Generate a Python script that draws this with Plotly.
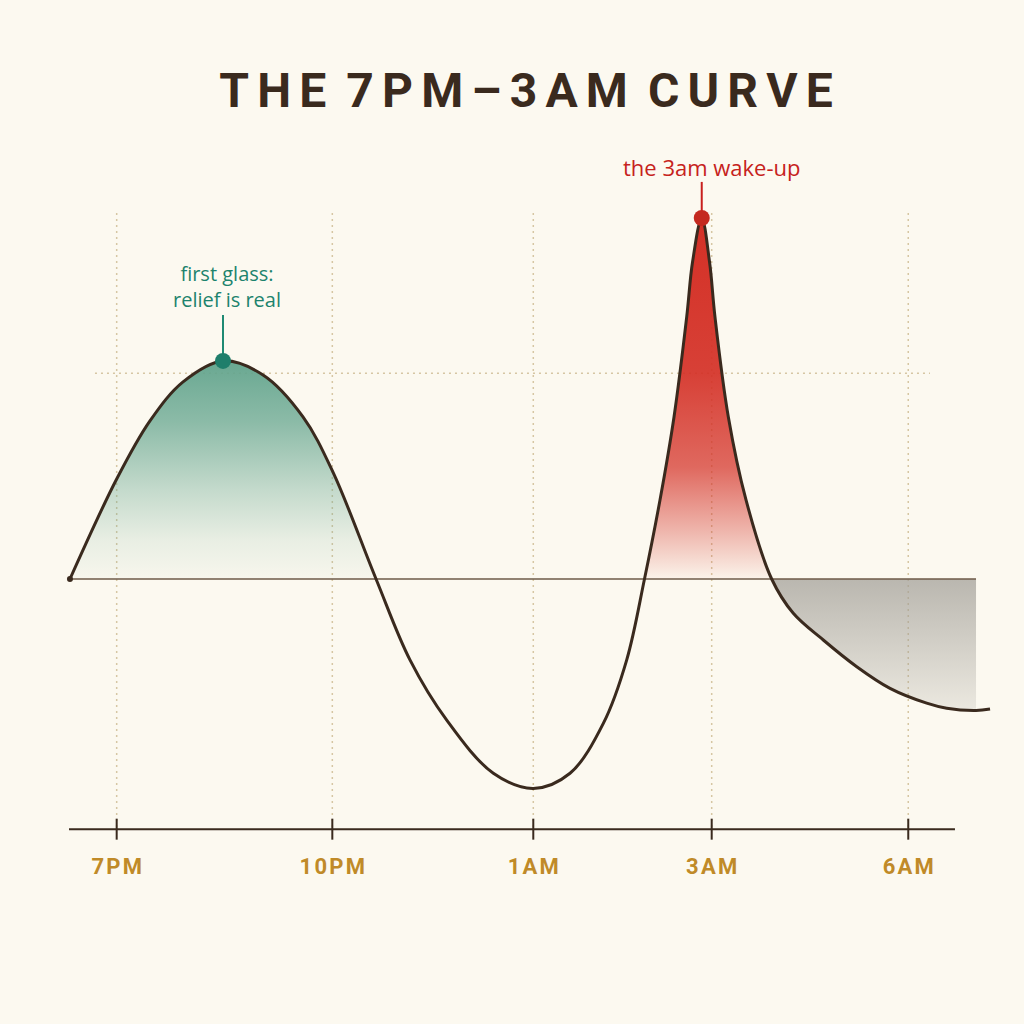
import plotly.graph_objects as go

BG = "#FCF9F0"
INK = "#3A2A1E"

# ---- data -------------------------------------------------------------
title_text = "THE 7PM–3AM CURVE"
tick_labels = ["7PM", "10PM", "1AM", "3AM", "6AM"]
tick_pos = [6.03, 28.97, 50.35, 69.33, 90.24]   # position on the night timeline (0-100)

curve_x = [1.06, 6.03, 9.57, 13.09, 17.34, 21.60, 25.85, 29.04, 33.62,
           37.23, 41.14, 46.10, 50.35, 54.26, 57.80, 60.29, 62.18,
           63.83, 65.32, 66.67, 67.29, 68.27, 69.10, 69.68, 71.10, 72.98, 75.71,
           78.01, 81.20, 84.76, 88.30, 92.20, 94.33, 97.45, 98.94]
curve_y = [0.00, 2.77, 4.38, 5.46, 6.04, 5.65, 4.49, 2.96, 0.00,
           -2.24, -3.91, -5.38, -5.80, -5.38, -4.00, -2.24, 0.00,
           2.19, 4.49, 7.26, 8.78, 10.00, 8.78, 7.26, 4.49, 2.19, 0.00,
           -0.95, -1.69, -2.43, -3.03, -3.44, -3.58, -3.64, -3.60]

relief_idx = list(range(0, 9))      # first glass hump
wake_idx = list(range(16, 27))      # 3am spike
crash_idx = list(range(26, 34))     # morning low

relief_peak = 4
wake_peak = 21

relief_label = "first glass:<br>relief is real"
wake_label = "the 3am wake-up"
relief_label_pos = (17.73, 8.10)
wake_label_pos = (69.36, 11.42)
relief_leader_top = 7.31
wake_leader_top = 11.00

ref_level = 5.70                 # dotted reference level
ref_span = (3.72, 92.55)
grid_top = 10.14
axis_y = -6.93
axis_span = (0.96, 95.21)
baseline_span = (1.06, 97.45)
label_y = -8.03

X_RANGE = [0, 100]
Y_RANGE = [-8.892, 12.438]


def pick(arr, idx):
    return [arr[i] for i in idx]


fig = go.Figure()

GRID = dict(color="#D6C6A3", width=1.5, dash="2px,4px")

# dotted horizontal reference level (under the fills)
fig.add_trace(go.Scatter(x=list(ref_span), y=[ref_level, ref_level], mode="lines",
                         line=GRID, hoverinfo="skip", showlegend=False))

# dotted vertical grid at the ticks
gx, gy = [], []
for p in tick_pos:
    gx += [p, p, None]
    gy += [grid_top, axis_y, None]
fig.add_trace(go.Scatter(x=gx, y=gy, mode="lines", line=GRID,
                         hoverinfo="skip", showlegend=False))

SMOOTH = 1.0

# green hump
fig.add_trace(go.Scatter(
    x=pick(curve_x, relief_idx), y=pick(curve_y, relief_idx), mode="lines",
    line=dict(width=0, shape="spline", smoothing=SMOOTH), fill="tozeroy",
    fillgradient=dict(type="vertical", start=0, stop=curve_y[relief_peak],
                      colorscale=[[0.0, "rgba(100,165,142,0.03)"],
                                  [0.18, "rgba(100,165,142,0.13)"],
                                  [0.41, "rgba(100,165,142,0.37)"],
                                  [0.72, "rgba(100,165,142,0.74)"],
                                  [1.0, "rgba(100,165,142,0.97)"]]),
    hoverinfo="skip", showlegend=False))

# red spike
fig.add_trace(go.Scatter(
    x=pick(curve_x, wake_idx), y=pick(curve_y, wake_idx), mode="lines",
    line=dict(width=0, shape="spline", smoothing=SMOOTH), fill="tozeroy",
    fillgradient=dict(type="vertical", start=0, stop=curve_y[wake_peak],
                      colorscale=[[0.0, "rgba(212,48,38,0.03)"],
                                  [0.13, "rgba(212,48,38,0.33)"],
                                  [0.31, "rgba(212,48,38,0.72)"],
                                  [0.57, "rgba(212,48,38,0.92)"],
                                  [1.0, "rgba(212,48,38,1.0)"]]),
    hoverinfo="skip", showlegend=False))

# grey crash
crash_y = pick(curve_y, crash_idx)
fig.add_trace(go.Scatter(
    x=pick(curve_x, crash_idx), y=crash_y, mode="lines",
    line=dict(width=0, shape="spline", smoothing=SMOOTH), fill="tozeroy",
    fillgradient=dict(type="vertical", start=min(crash_y), stop=0,
                      colorscale=[[0.0, "rgba(160,157,150,0.18)"],
                                  [1.0, "rgba(160,157,150,0.72)"]]),
    hoverinfo="skip", showlegend=False))

# baseline
fig.add_trace(go.Scatter(x=list(baseline_span), y=[0, 0], mode="lines",
                         line=dict(color="#6E5A48", width=1.6),
                         hoverinfo="skip", showlegend=False))

# main curve
fig.add_trace(go.Scatter(x=curve_x, y=curve_y, mode="lines",
                         line=dict(color=INK, width=3, shape="spline", smoothing=SMOOTH),
                         hoverinfo="skip", showlegend=False))
fig.add_trace(go.Scatter(x=[curve_x[0]], y=[curve_y[0]], mode="markers",
                         marker=dict(color=INK, size=6), hoverinfo="skip", showlegend=False))

# leaders + markers
fig.add_trace(go.Scatter(x=[curve_x[relief_peak]] * 2, y=[curve_y[relief_peak], relief_leader_top],
                         mode="lines", line=dict(color="#1F8A73", width=2),
                         hoverinfo="skip", showlegend=False))
fig.add_trace(go.Scatter(x=[curve_x[wake_peak]] * 2, y=[curve_y[wake_peak], wake_leader_top],
                         mode="lines", line=dict(color="#C8201E", width=2),
                         hoverinfo="skip", showlegend=False))
fig.add_trace(go.Scatter(x=[curve_x[relief_peak]], y=[curve_y[relief_peak]], mode="markers",
                         marker=dict(color="#1F7E6B", size=16), cliponaxis=False,
                         hoverinfo="skip", showlegend=False))
fig.add_trace(go.Scatter(x=[curve_x[wake_peak]], y=[curve_y[wake_peak]], mode="markers",
                         marker=dict(color="#C42A20", size=16), cliponaxis=False,
                         hoverinfo="skip", showlegend=False))

# x axis line, ticks, labels
fig.add_trace(go.Scatter(x=list(axis_span), y=[axis_y, axis_y], mode="lines",
                         line=dict(color=INK, width=2), hoverinfo="skip", showlegend=False))
fig.add_trace(go.Scatter(x=tick_pos, y=[axis_y] * len(tick_pos), mode="markers",
                         marker=dict(symbol="line-ns", size=15, line=dict(color=INK, width=2)),
                         cliponaxis=False, hoverinfo="skip", showlegend=False))
spaced_ticks = ["\u200a".join(t) for t in tick_labels]
fig.add_trace(go.Scatter(x=tick_pos, y=[label_y] * len(tick_pos), mode="text",
                         text=spaced_ticks, textposition="middle center",
                         textfont=dict(family="Roboto", size=22, color="#C08A28", weight="bold"),
                         cliponaxis=False, hoverinfo="skip", showlegend=False))

fig.add_annotation(x=relief_label_pos[0], y=relief_label_pos[1], text=relief_label,
                   showarrow=False, xanchor="center", yanchor="middle",
                   font=dict(family="Open Sans", size=20, color="#1C836D", weight=500))
fig.add_annotation(x=wake_label_pos[0], y=wake_label_pos[1], text=wake_label,
                   showarrow=False, xanchor="center", yanchor="middle",
                   font=dict(family="Open Sans", size=22, color="#C6221C", weight=500))

spaced_title = "\u2006".join(title_text).replace("\u2006 \u2006", " \u2006")

fig.update_layout(
    width=1024, height=1024,
    paper_bgcolor=BG, plot_bgcolor=BG,
    margin=dict(l=60, r=24, t=130, b=124),
    title=dict(text=spaced_title, x=0.5137, xanchor="center", xref="container",
               y=1 - 90 / 1024, yanchor="middle", yref="container",
               font=dict(family="Roboto", size=48, color=INK, weight="bold")),
    xaxis=dict(range=X_RANGE, visible=False, fixedrange=True),
    yaxis=dict(range=Y_RANGE, visible=False, fixedrange=True),
    showlegend=False,
)

fig.write_html("out.html")
